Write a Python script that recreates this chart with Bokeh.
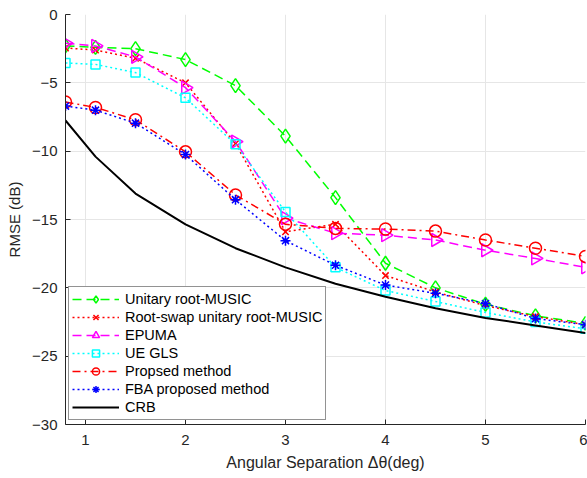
import numpy as np
from bokeh.plotting import figure
from bokeh.models import Legend, LegendItem, FixedTicker, Range1d
from bokeh.embed import file_html
from bokeh.resources import INLINE

# ---- data ----
x = [0.8, 1.1, 1.5, 2, 2.5, 3, 3.5, 4, 4.5, 5, 5.5, 6]
unitary = [-2.3, -2.4, -2.5, -3.3, -5.2, -8.9, -13.4, -18.2, -20.0, -21.2, -22.05, -22.6]
rootswap = [-2.45, -2.6, -3.2, -5.0, -9.45, -15.9, -15.35, -19.1, -20.3, -21.3, -22.1, -22.7]
epuma = [-2.1, -2.3, -3.1, -5.35, -9.3, -14.9, -16.0, -16.15, -16.5, -17.25, -17.85, -18.5]
uegls = [-3.55, -3.65, -4.25, -6.1, -9.5, -14.45, -18.5, -20.2, -21.0, -21.8, -22.5, -23.0]
proposed = [-6.4, -6.8, -7.7, -10.05, -13.2, -15.35, -15.65, -15.7, -15.85, -16.5, -17.1, -17.7]
fba = [-6.7, -7.0, -7.95, -10.25, -13.55, -16.55, -18.35, -19.8, -20.4, -21.15, -22.25, -22.7]
crb = [-7.75, -10.4, -13.1, -15.35, -17.1, -18.5, -19.7, -20.65, -21.5, -22.2, -22.75, -23.3]

labels = ["Unitary root-MUSIC", "Root-swap unitary root-MUSIC", "EPUMA", "UE GLS",
          "Propsed method", "FBA proposed method", "CRB"]
x_ticks = [1, 2, 3, 4, 5, 6]
y_ticks = [0, -5, -10, -15, -20, -25, -30]

FONT = "Liberation Sans"

p = figure(width=587, height=478, output_backend="svg", toolbar_location=None,
           x_range=Range1d(0.8, 6), y_range=Range1d(-30, 0),
           min_border_left=65, min_border_right=2, min_border_top=14, min_border_bottom=54)
p.outline_line_color = None
p.background_fill_color = "white"
p.border_fill_color = "white"

for ax, ticks in ((p.xaxis, x_ticks), (p.yaxis, y_ticks)):
    ax.ticker = FixedTicker(ticks=ticks)
    ax.axis_line_color = "#262626"
    ax.axis_line_width = 1
    ax.major_tick_line_color = "#262626"
    ax.major_tick_in = 5
    ax.major_tick_out = 0
    ax.minor_tick_line_color = None
    ax.major_label_text_font = FONT
    ax.major_label_text_font_size = "15px"
    ax.major_label_text_color = "#262626"
    ax.axis_label_text_font = FONT
    ax.axis_label_text_font_style = "normal"
    ax.axis_label_text_color = "#262626"

p.xaxis.axis_label = "Angular Separation \u0394\u03b8(deg)"
p.yaxis.axis_label = "RMSE (dB)"
p.xaxis.axis_label_text_font_size = "16px"
p.yaxis.axis_label_text_font_size = "15px"
p.xaxis.major_label_standoff = 10
p.yaxis.major_label_standoff = 8
p.yaxis.axis_label_standoff = 6
p.xaxis.axis_label_standoff = 6

p.xgrid.ticker = FixedTicker(ticks=x_ticks)
p.ygrid.ticker = FixedTicker(ticks=y_ticks)
p.grid.grid_line_color = "#e6e6e6"
p.grid.grid_line_width = 1

LW = 1.5
series = [
    (unitary, "#00ff00", "9 5", "diamond", 14, 0.0),
    (rootswap, "#ff0000", "2 3", "x", 9, 0.0),
    (epuma, "#ff00ff", "9 5", "triangle", 13, -np.pi / 2),
    (uegls, "#00ffff", "2 3", "square", 9, 0.0),
    (proposed, "#ff0000", "8 4 2 4", "circle", 12, 0.0),
    (fba, "#0000ff", "2 3", "asterisk", 10, 0.0),
]

items = []
for (ys, color, dash, marker, size, ang), lab in zip(series, labels[:6]):
    lr = p.line(x, ys, line_color=color, line_width=LW, line_dash=dash)
    sr = p.scatter(x, ys, marker=marker, size=size, angle=ang,
                   line_color=color, line_width=LW, fill_color=None)
    items.append(LegendItem(label=lab, renderers=[lr, sr]))

cr = p.line(x, crb, line_color="black", line_width=2)
items.append(LegendItem(label=labels[6], renderers=[cr]))

legend = Legend(items=items, location=(3, 4))
legend.label_text_font = FONT
legend.label_text_font_size = "14.5px"
legend.label_text_color = "black"
legend.border_line_color = "#262626"
legend.border_line_width = 1
legend.background_fill_color = "white"
legend.background_fill_alpha = 1
legend.glyph_width = 47
legend.glyph_height = 18
legend.label_height = 18
legend.label_standoff = 6
legend.spacing = 0
legend.padding = 3
legend.margin = 0
p.add_layout(legend)

open("out.html", "w").write(file_html(p, INLINE))
